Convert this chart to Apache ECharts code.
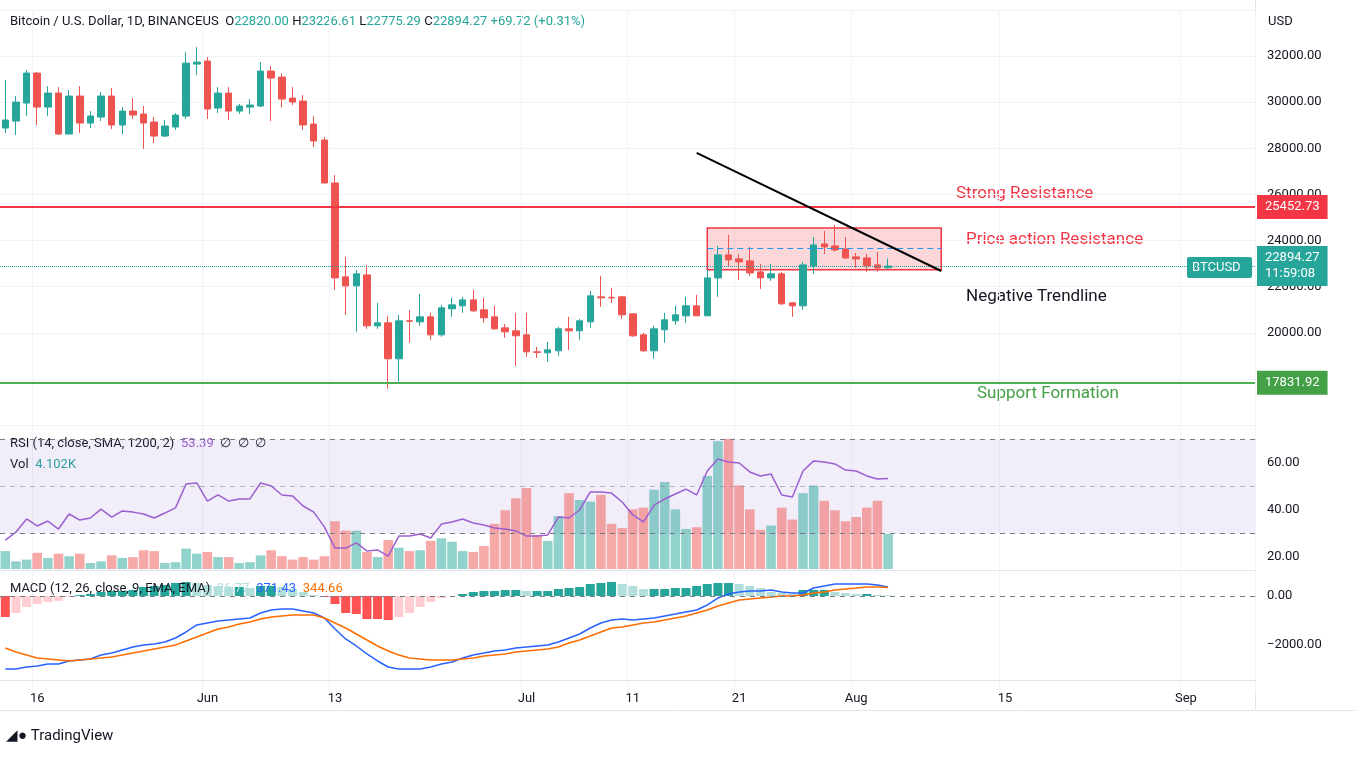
<!DOCTYPE html>
<html>
<head>
<meta charset="utf-8">
<script src="https://cdn.jsdelivr.net/npm/echarts@6/dist/echarts.min.js"></script>
<style>
  html, body { margin: 0; padding: 0; background: #fff; }
  #chart { width: 1355px; height: 759px; }
</style>
</head>
<body>
<div id="chart"></div>
<script>
// daily candles from 2022-05-13 to 2022-08-04: [open, close, low, high]
var candles = [
  [28880,29227,28664,30960],[29184,30007,28577,30267],[29964,31264,29401,31394],[31264,29790,29011,31307],
  [29790,30397,29401,30700],[30397,28621,28577,30657],[28621,30267,28621,30527],[30267,29097,28664,30700],
  [29097,29401,28880,29617],[29357,30267,29184,30440],[30267,29011,28837,30614],[29011,29617,28621,29790],
  [29617,29444,29271,30180],[29487,29097,27971,29834],[29141,28534,28231,29357],[28534,28967,28491,29227],
  [28924,29444,28794,29531],[29401,31697,29271,32174],[31654,31740,31177,32390],[31784,29704,29271,31957],
  [29747,30397,29531,30657],[30397,29617,29227,30657],[29617,29834,29487,29920],[29790,29877,29487,30137],
  [29834,31350,29790,31740],[31350,31047,29184,31567],[31090,30137,29790,31264],[30180,30007,29877,30657],
  [30050,29011,28794,30310],[29054,28317,28057,29401],[28361,26497,26497,28491],[26497,22381,21861,26844],
  [22425,22035,20778,23291],[22035,22555,20041,22728],[22511,20301,20171,22944],[20301,20431,20171,21298],
  [20431,18871,17571,20734],[18871,20518,17875,20778],[20518,20500,19564,20994],[20474,20691,20301,21688],
  [20691,19911,19694,20864],[19911,21081,19824,21211],[21038,21211,20691,21514],[21168,21427,20864,21558],
  [21427,20951,20908,21861],[20994,20648,20431,21514],[20691,20171,20128,21168],[20214,20041,19781,20388],
  [20084,19868,18568,20864],[19911,19174,18958,20864],[19174,19150,18915,19391],[19131,19261,18741,19608],
  [19218,20171,19001,20258],[20171,20084,19261,20691],[20084,20518,19694,20604],[20474,21601,20214,21818],
  [21558,21514,21124,22468],[21540,21514,21298,21948],[21558,20778,20604,21600],[20821,19868,19824,20821],
  [19911,19218,19174,19998],[19218,20171,18871,20301],[20128,20561,19564,20864],[20518,20778,20344,21168],
  [20734,21168,20431,21558],[21168,20734,20734,21644],[20734,22381,20734,22728],[22381,23378,21558,23767],
  [23378,23161,22901,24244],[23204,23074,22295,23421],[23118,22598,22468,23724],[22641,22381,21904,22988],
  [22381,22555,22251,22988],[22555,21254,21211,22641],[21298,21168,20691,21341],[21168,22944,20994,23074],
  [22901,23811,22555,24157],[23854,23724,23421,24417],[23767,23594,23508,24678],[23637,23248,23204,24157],
  [23291,23204,22814,23464],[23248,22901,22641,23421],[22944,22814,22641,23508],[22820,22894,22775,23226]
];
// volume in thousands
var volumes = [
  2.1,0.9,1.1,1.9,1.3,1.8,1.5,1.8,0.7,0.9,
  1.6,1.3,1.4,2.2,2.1,0.7,0.8,2.4,1.8,2.0,
  1.4,1.4,0.7,0.8,1.6,2.2,1.5,1.1,1.4,1.1,
  1.5,5.6,4.5,4.5,2.0,1.4,3.4,2.5,2.1,2.2,
  3.3,3.6,3.2,2.1,2.0,2.7,5.3,6.9,8.3,9.5,
  4.0,3.3,6.2,8.9,8.1,7.9,8.7,5.3,4.8,7.0,
  7.2,9.3,10.2,7.0,4.7,4.9,10.9,15.0,15.3,9.8,
  7.0,4.6,5.1,7.2,5.8,8.9,9.8,8.0,6.9,5.6,
  6.1,7.2,8.0,4.102
];
var rsi = [
  27.2,30.6,36.2,33.2,35.3,31.9,38.3,35.7,36.6,40.4,
  37.0,39.6,39.1,38.3,36.6,38.7,40.9,51.1,51.5,43.8,
  46.4,43.8,44.7,44.7,51.5,50.2,46.4,46.0,41.7,39.1,
  32.8,23.8,23.8,26.0,22.6,23.0,20.4,28.9,28.9,29.8,
  28.1,34.0,34.9,36.2,34.5,33.6,32.3,31.9,31.1,28.9,
  28.9,29.4,37.0,36.6,40.0,47.7,47.7,47.2,43.4,37.9,
  34.9,42.1,44.7,46.8,48.9,46.4,56.6,61.7,60.4,60.0,
  56.2,54.5,55.3,46.4,45.5,56.6,60.9,60.4,59.6,57.0,
  56.6,54.5,53.2,53.39
];
var macdLine = [
  -2978,-2978,-2897,-2856,-2774,-2774,-2652,-2611,-2570,-2407,-2326,-2203,-2081,-1999,-1958,-1877,-1714,-1469,-1183,-1102,
  -1020,-979,-938,-898,-694,-571,-530,-530,-612,-694,-898,-1346,-1754,-2040,-2366,-2652,-2897,-2978,-2978,-2978,-2897,
  -2774,-2693,-2530,-2407,-2326,-2244,-2203,-2122,-2081,-2040,-1999,-1877,-1714,-1550,-1306,-1102,-979,-938,-979,-938,
  -898,-816,-734,-653,-571,-367,-82,82,163,204,204,245,163,122,122,326,408,490,490,490,490,449,371.43
];
var signalLine = [
  -2122,-2285,-2407,-2530,-2570,-2611,-2652,-2611,-2570,-2530,-2489,-2407,-2326,-2244,-2162,-2081,-1999,-1836,-1673,-1510,
  -1346,-1265,-1142,-1061,-938,-857,-816,-775,-775,-775,-898,-1102,-1306,-1550,-1795,-2040,-2244,-2407,-2530,-2570,-2611,
  -2611,-2611,-2570,-2530,-2448,-2407,-2366,-2285,-2244,-2203,-2162,-2081,-1918,-1795,-1632,-1469,-1306,-1265,-1183,-1102,
  -1061,-979,-898,-816,-694,-571,-408,-286,-163,-122,-82,-41,0,0,41,122,163,245,286,326,371,371,344.66
];
var macdHist = [
  -857,-694,-449,-326,-245,-204,-41,41,82,163,204,204,245,367,408,449,530,571,530,449,
  408,367,367,326,408,408,367,286,163,41,-41,-326,-694,-734,-938,-938,-979,-857,-694,-449,-245,
  -82,0,82,163,204,204,245,245,204,204,204,286,326,367,490,530,571,490,408,286,
  286,286,326,326,408,490,530,530,490,408,326,163,122,82,245,245,245,163,122,82,82,41,26.77
];
// date axis tick labels by day index
var tickLabels = { 3: '16', 19: 'Jun', 31: '13', 49: 'Jul', 59: '11', 69: '21', 80: 'Aug', 94: '15', 111: 'Sep' };
var priceTicks = [20000, 22000, 24000, 26000, 28000, 30000, 32000];
var strongResistance = 25452.73;
var support = 17831.92;
var lastPrice = 22894.27;
var boxTop = 24550, boxBottom = 22730, boxMid = 23680;
var boxStart = 66, boxEnd = 88;
var trend = [[65, 27800], [88, 22680]];

var up = '#26a69a', down = '#ef5350';
var nDays = 118;
var days = [];
var d0 = new Date(Date.UTC(2022, 4, 13));
for (var i = 0; i < nDays; i++) {
  var d = new Date(d0.getTime() + i * 86400000);
  days.push(d.toISOString().slice(0, 10));
}

var volData = volumes.map(function(v, i) {
  var c = candles[i];
  return { value: v, itemStyle: { color: c[1] >= c[0] ? 'rgba(38,166,154,0.5)' : 'rgba(239,83,80,0.5)' } };
});
var histData = macdHist.map(function(v, i) {
  var prev = i > 0 ? macdHist[i - 1] : v;
  var col;
  if (v >= 0) col = v >= prev ? '#26a69a' : '#b2dfdb';
  else col = v <= prev ? '#ff5252' : '#ffcdd2';
  return { value: v, itemStyle: { color: col } };
});

var font = 'Roboto, "Liberation Sans", sans-serif';
function xAx(idx, show) {
  return {
    type: 'category', gridIndex: idx, data: days, boundaryGap: true,
    axisLine: { show: show, lineStyle: { color: '#e0e3eb' } },
    axisTick: { show: false },
    axisLabel: {
      show: show, color: '#131722', fontSize: 13, fontFamily: font, margin: 12,
      interval: function(i) { return tickLabels[i] !== undefined; },
      formatter: function(v, i) { return tickLabels[i] || ''; }
    },
    splitLine: {
      show: !show, interval: function(i) { return tickLabels[i] !== undefined; },
      lineStyle: { color: '#f0f3fa' }
    }
  };
}
var labelStyle = { color: '#131722', fontSize: 13, fontFamily: font, margin: 12 };
function tag(text, bg) {
  return { position: 'end', formatter: text, color: '#fff', backgroundColor: bg,
    padding: [4, 8], fontSize: 13, lineHeight: 16, fontFamily: font, distance: 2 };
}

var chart = echarts.init(document.getElementById('chart'), null, { renderer: 'canvas' });
chart.setOption({
  animation: false,
  backgroundColor: '#fff',
  grid: [
    { left: 0, right: 100, top: 10, height: 415 },
    { left: 0, right: 100, top: 416, height: 188 },
    { left: 0, right: 100, top: 425, height: 144 },
    { left: 0, right: 100, top: 547, height: 147 },
    { left: 0, right: 100, top: 679, height: 1 }
  ],
  xAxis: [xAx(0, false), xAx(1, false), xAx(2, false), xAx(3, false), xAx(4, true)],
  yAxis: [
    { gridIndex: 0, position: 'right', min: 16000, max: 34000, interval: 2000,
      axisLine: { show: false }, axisTick: { show: false },
      axisLabel: Object.assign({}, labelStyle, { formatter: function(v) { return priceTicks.indexOf(v) >= 0 ? v.toFixed(2) : ''; } }),
      splitLine: { lineStyle: { color: '#f0f3fa' } } },
    { gridIndex: 1, position: 'right', min: 0, max: 80, interval: 20,
      axisLine: { show: false }, axisTick: { show: false },
      axisLabel: Object.assign({}, labelStyle, { formatter: function(v) { return (v >= 20 && v <= 60) ? v.toFixed(2) : ''; } }),
      splitLine: { show: false } },
    { gridIndex: 2, min: 0, max: 16.9, show: false },
    { gridIndex: 3, position: 'right', min: -4000, max: 2000, interval: 2000,
      axisLine: { show: false }, axisTick: { show: false },
      axisLabel: Object.assign({}, labelStyle, { formatter: function(v) { return v === 0 ? '0.00' : (v === -2000 ? '\u22122000.00' : ''); } }),
      splitLine: { show: false } },
    { gridIndex: 4, show: false }
  ],
  series: [
    {
      type: 'candlestick', xAxisIndex: 0, yAxisIndex: 0, data: candles, barWidth: 7,
      itemStyle: { color: up, color0: down, borderColor: up, borderColor0: down },
      markArea: {
        silent: true,
        itemStyle: { color: 'rgba(242,54,69,0.2)', borderColor: '#f23645', borderWidth: 1.5 },
        data: [[{ xAxis: days[boxStart], yAxis: boxTop }, { xAxis: days[boxEnd], yAxis: boxBottom }]]
      },
      markLine: {
        silent: true, symbol: 'none',
        data: [
          { yAxis: strongResistance, lineStyle: { color: '#f23645', width: 2, type: 'solid' },
            label: tag(strongResistance.toFixed(2), '#f23645') },
          { yAxis: support, lineStyle: { color: '#4caf50', width: 2, type: 'solid' },
            label: tag(support.toFixed(2), '#43a047') },
          { yAxis: lastPrice, lineStyle: { color: '#26a69a', width: 1, type: 'dotted' },
            label: tag(lastPrice.toFixed(2) + '\n11:59:08', '#26a69a') },
          [{ coord: [days[boxStart], boxMid], lineStyle: { color: '#2196f3', width: 1, type: [6, 4] }, label: { show: false } },
           { coord: [days[boxEnd], boxMid] }],
          [{ coord: [days[trend[0][0]], trend[0][1]], lineStyle: { color: '#000', width: 2, type: 'solid' }, label: { show: false } },
           { coord: [days[trend[1][0]], trend[1][1]] }]
        ]
      }
    },
    {
      type: 'bar', xAxisIndex: 2, yAxisIndex: 2, data: volData, barCategoryGap: '10%', z: 2
    },
    {
      type: 'line', xAxisIndex: 1, yAxisIndex: 1, data: rsi, showSymbol: false, z: 4,
      lineStyle: { color: '#9c5fd0', width: 1.5 },
      markArea: { silent: true, itemStyle: { color: 'rgba(126,87,194,0.1)' }, data: [[{ yAxis: 30 }, { yAxis: 70 }]] },
      markLine: {
        silent: true, symbol: 'none', label: { show: false },
        data: [
          { yAxis: 70, lineStyle: { color: '#787b86', type: [5, 5], width: 1 } },
          { yAxis: 50, lineStyle: { color: 'rgba(120,123,134,0.5)', type: [5, 5], width: 1 } },
          { yAxis: 30, lineStyle: { color: '#787b86', type: [5, 5], width: 1 } }
        ]
      }
    },
    {
      type: 'bar', xAxisIndex: 3, yAxisIndex: 3, data: histData, barCategoryGap: '15%',
      markLine: { silent: true, symbol: 'none', label: { show: false },
        data: [{ yAxis: 0, lineStyle: { color: '#787b86', type: [5, 5], width: 1 } }] }
    },
    { type: 'line', xAxisIndex: 3, yAxisIndex: 3, data: macdLine, showSymbol: false, lineStyle: { color: '#2962ff', width: 1.5 } },
    { type: 'line', xAxisIndex: 3, yAxisIndex: 3, data: signalLine, showSymbol: false, lineStyle: { color: '#ff6d00', width: 1.5 } },
    { type: 'line', xAxisIndex: 4, yAxisIndex: 4, data: [] }
  ],
  graphic: [
    { type: 'line', shape: { x1: 0, y1: 425.5, x2: 1255, y2: 425.5 }, style: { stroke: '#e0e3eb', lineWidth: 1 } },
    { type: 'line', shape: { x1: 0, y1: 570.5, x2: 1255, y2: 570.5 }, style: { stroke: '#e0e3eb', lineWidth: 1 } },
    { type: 'line', shape: { x1: 0, y1: 680.5, x2: 1255, y2: 680.5 }, style: { stroke: '#e0e3eb', lineWidth: 1 } },
    { type: 'line', shape: { x1: 1255.5, y1: 0, x2: 1255.5, y2: 710 }, style: { stroke: '#e0e3eb', lineWidth: 1 } },
    { type: 'line', shape: { x1: 0, y1: 710.5, x2: 1355, y2: 710.5 }, style: { stroke: '#e0e3eb', lineWidth: 1 } },
    { type: 'text', left: 10, top: 15, style: {
      text: '{a|Bitcoin / U.S. Dollar, 1D, BINANCEUS}  {a|O}{v|22820.00} {a|H}{v|23226.61} {a|L}{v|22775.29} {a|C}{v|22894.27} {v|+69.72 (+0.31%)}',
      rich: { a: { fill: '#131722', fontSize: 13, fontFamily: font }, v: { fill: '#26a69a', fontSize: 13, fontFamily: font } } } },
    { type: 'text', left: 1268, top: 15, style: { text: 'USD', fill: '#131722', fontSize: 13, fontFamily: font } },
    { type: 'text', left: 956, top: 185, style: { text: 'Strong Resistance', fill: '#f23645', fontSize: 17, fontFamily: font } },
    { type: 'text', left: 966, top: 231, style: { text: 'Price action Resistance', fill: '#f23645', fontSize: 17, fontFamily: font } },
    { type: 'text', left: 966, top: 288, style: { text: 'Negative Trendline', fill: '#131722', fontSize: 17, fontFamily: font } },
    { type: 'text', left: 977, top: 385, style: { text: 'Support Formation', fill: '#43a047', fontSize: 17, fontFamily: font } },
    { type: 'rect', shape: { x: 1187, y: 257, width: 65, height: 21, r: 2 }, style: { fill: '#26a69a' } },
    { type: 'text', left: 1192, top: 261, style: { text: 'BTCUSD', fill: '#fff', fontSize: 13, fontFamily: font } },
    { type: 'text', left: 10, top: 437, style: {
      text: '{a|RSI (14, close, SMA, 1200, 2)}  {p|53.39}  {a|\u2205  \u2205  \u2205}',
      rich: { a: { fill: '#131722', fontSize: 13, fontFamily: font }, p: { fill: '#9c5fd0', fontSize: 13, fontFamily: font } } } },
    { type: 'text', left: 10, top: 458, style: {
      text: '{a|Vol}  {g|4.102K}',
      rich: { a: { fill: '#131722', fontSize: 13, fontFamily: font }, g: { fill: '#26a69a', fontSize: 13, fontFamily: font } } } },
    { type: 'text', left: 10, top: 582, z: 10, style: {
      text: '{a|MACD (12, 26, close, 9, EMA, EMA)}  {g|26.77}  {b|371.43}  {o|344.66}',
      rich: { a: { fill: '#131722', fontSize: 13, fontFamily: font }, g: { fill: '#b2dfdb', fontSize: 13, fontFamily: font },
        b: { fill: '#2962ff', fontSize: 13, fontFamily: font }, o: { fill: '#ff6d00', fontSize: 13, fontFamily: font } } } },
    { type: 'text', left: 6, top: 729, style: { text: '\u25E2\u25CF TradingView', fill: '#131722', fontSize: 15, fontFamily: font } }
  ]
});
</script>
</body>
</html>
